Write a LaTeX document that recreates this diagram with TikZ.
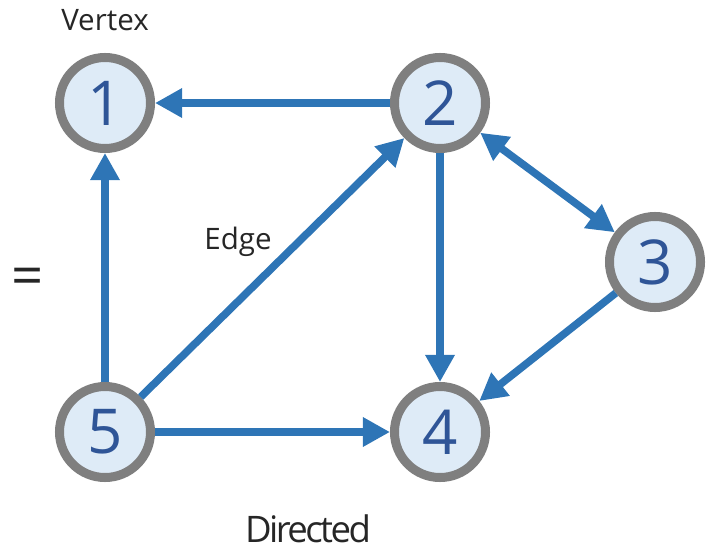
\documentclass[tikz,border=0pt]{standalone}
\usepackage{fontspec}
\setmainfont{Open Sans}
\usetikzlibrary{arrows.meta}
\definecolor{edgeblue}{HTML}{2E75B6}
\definecolor{vfill}{HTML}{DEEBF7}
\definecolor{vborder}{HTML}{7F7F7F}
\definecolor{vtext}{HTML}{2F5597}
\definecolor{lbltext}{HTML}{262626}
\begin{document}
\begin{tikzpicture}[
    x=0.025cm, y=-0.025cm,
    vertex/.style={circle, draw=vborder, line width=0.225cm, fill=vfill, minimum size=2.275cm, inner sep=0pt, text=vtext, font=\fontsize{44}{44}\selectfont},
    arr/.style={-{Triangle[length=0.68cm, width=0.7cm]}, line width=0.19cm, edgeblue},
    biarr/.style={arr, {Triangle[length=0.68cm, width=0.7cm]}-{Triangle[length=0.68cm, width=0.7cm]}},
    lbl/.style={font=\fontsize{21}{21}\selectfont, text=lbltext}
]
\useasboundingbox (0,0) rectangle (710,552);

% Vertices
\node[vertex] (v1) at (105,103) {1};
\node[vertex] (v2) at (440,103) {2};
\node[vertex] (v3) at (655,262) {3};
\node[vertex] (v4) at (440,432) {4};
\node[vertex] (v5) at (105,432) {5};

% Directed edges
\draw[arr] (v2) -- (v1);
\draw[arr] (v5) -- (v1);
\draw[arr] (v5) -- (v2);
\draw[arr] (v2) -- (v4);
\draw[biarr] (v2) -- (v3);
\draw[arr] (v3) -- (v4);
\draw[arr] (v5) -- (v4);

% Labels
\node[lbl] (vlbl) at (105,20) {Vertex};
\node[lbl] (elbl) at (238,242) {Edge};
\node[lbl, font=\fontsize{40}{40}\selectfont] (eq) at (28,282) {=};
\node[lbl, font=\fontsize{26}{26}\selectfont\addfontfeatures{LetterSpace=-7}] (title) at (308,529) {Directed};
\end{tikzpicture}
\end{document}
